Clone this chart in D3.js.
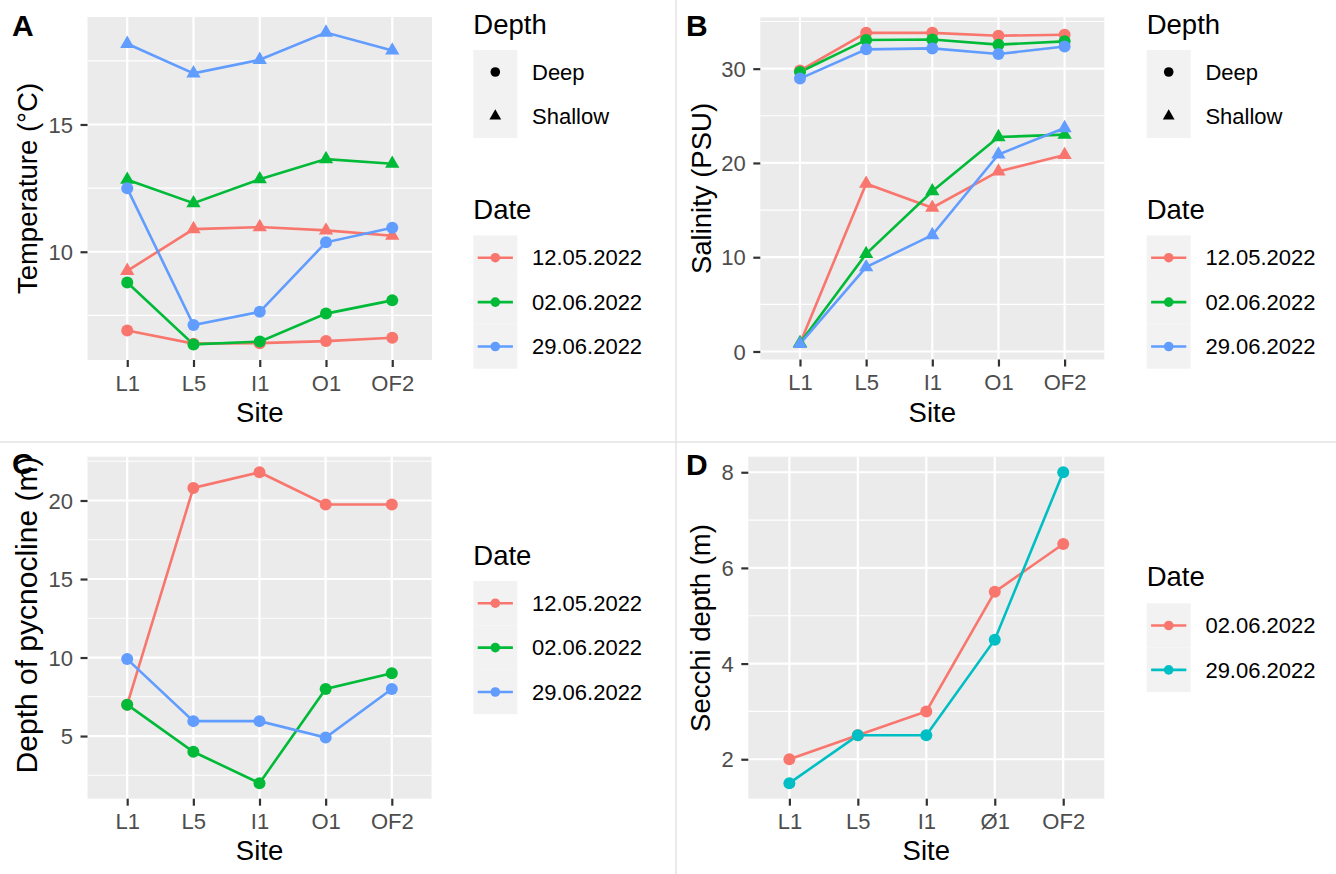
<!DOCTYPE html>
<html>
<head>
<meta charset="utf-8">
<script src="https://cdn.jsdelivr.net/npm/d3@7"></script>
<style>
  html, body { margin: 0; padding: 0; background: #ffffff; }
  svg { display: block; font-family: "Liberation Sans", Arial, Helvetica, sans-serif; }
</style>
</head>
<body>
<svg id="fig" width="1336" height="874"></svg>
<script>
// ---- categories ----
const sites = ["L1", "L5", "I1", "O1", "OF2"];
const secchiSites = ["L1", "L5", "I1", "Ø1", "OF2"];
const dates = ["12.05.2022", "02.06.2022", "29.06.2022"];
const secchiDates = ["02.06.2022", "29.06.2022"];
const depths = ["Deep", "Shallow"];

// ---- temperature (°C) ----
const tempDeep12May = [6.91, 6.39, 6.41, 6.49, 6.62];
const tempDeep02Jun = [8.79, 6.36, 6.47, 7.57, 8.09];
const tempDeep29Jun = [12.49, 7.12, 7.64, 10.37, 10.94];
const tempShallow12May = [9.25, 10.89, 10.97, 10.84, 10.63];
const tempShallow02Jun = [12.83, 11.91, 12.85, 13.64, 13.46];
const tempShallow29Jun = [18.17, 17.01, 17.54, 18.61, 17.91];

// ---- salinity (PSU) ----
const salDeep12May = [29.8, 33.8, 33.8, 33.5, 33.6];
const salDeep02Jun = [29.65, 33.05, 33.1, 32.55, 32.9];
const salDeep29Jun = [28.95, 32.05, 32.15, 31.55, 32.35];
const salShallow12May = [0.85, 17.8, 15.25, 19.1, 20.85];
const salShallow02Jun = [0.9, 10.35, 17.0, 22.75, 23.0];
const salShallow29Jun = [0.8, 8.95, 12.35, 20.9, 23.7];

// ---- depth of pycnocline (m) ----
const pyc12May = [7, 20.8, 21.8, 19.75, 19.75];
const pyc02Jun = [7, 4, 2, 8, 9];
const pyc29Jun = [9.9, 5.95, 5.95, 4.9, 8];

// ---- Secchi depth (m) ----
const secchi02Jun = [2, 2.5, 3, 5.5, 6.5];
const secchi29Jun = [1.5, 2.5, 2.5, 4.5, 8];

// ---- tick values ----
const tempMajor = [10, 15], tempMinor = [7.5, 12.5, 17.5];
const salMajor = [0, 10, 20, 30], salMinor = [5, 15, 25, 35];
const pycMajor = [5, 10, 15, 20], pycMinor = [2.5, 7.5, 12.5, 17.5, 22.5];
const secMajor = [2, 4, 6, 8], secMinor = [3, 5, 7];

const dateColors = ["#F8766D", "#00BA38", "#619CFF"];
const secchiColors = ["#F8766D", "#00BFC4"];

const svg = d3.select("#fig");

// panel separators
svg.append("line").attr("x1", 0).attr("x2", 1336).attr("y1", 442).attr("y2", 442)
  .attr("stroke", "#e3e3e3").attr("stroke-width", 1.5);
svg.append("line").attr("x1", 676).attr("x2", 676).attr("y1", 0).attr("y2", 874)
  .attr("stroke", "#e3e3e3").attr("stroke-width", 1.5);

function triPath(size) { return d3.symbol().type(d3.symbolTriangle).size(size)(); }

// Draws one ggplot-style panel.
function drawPanel(cfg) {
  const { box, cats, series, major, minor, yTitle, yTitleX, yTitleY, yTitleSize, tag, tagX, tagY, xTitleY } = cfg;
  const g = svg.append("g");
  const allVals = series.flatMap(s => s.values);
  const [lo, hi] = d3.extent(allVals);
  const pad = (hi - lo) * 0.05;
  const x = d3.scalePoint().domain(cats).range([box.x0, box.x1]).padding(0.6);
  const y = d3.scaleLinear().domain([lo - pad, hi + pad]).range([box.y1, box.y0]);

  g.append("rect").attr("x", box.x0).attr("y", box.y0)
    .attr("width", box.x1 - box.x0).attr("height", box.y1 - box.y0).attr("fill", "#EBEBEB");

  g.selectAll(".minor").data(minor).join("line")
    .attr("x1", box.x0).attr("x2", box.x1).attr("y1", d => y(d)).attr("y2", d => y(d))
    .attr("stroke", "#ffffff").attr("stroke-width", 1.1);
  g.selectAll(".majorY").data(major).join("line")
    .attr("x1", box.x0).attr("x2", box.x1).attr("y1", d => y(d)).attr("y2", d => y(d))
    .attr("stroke", "#ffffff").attr("stroke-width", 2.2);
  g.selectAll(".majorX").data(cats).join("line")
    .attr("y1", box.y0).attr("y2", box.y1).attr("x1", d => x(d)).attr("x2", d => x(d))
    .attr("stroke", "#ffffff").attr("stroke-width", 2.2);

  // axes
  const ax = g.append("g").attr("transform", `translate(0,${box.y1})`)
    .call(d3.axisBottom(x).tickSize(7).tickPadding(8));
  ax.select(".domain").remove();
  ax.selectAll(".tick line").attr("stroke", "#333333").attr("stroke-width", 2.2);
  ax.selectAll(".tick text").attr("fill", "#4D4D4D").attr("font-size", 22)
    .attr("y", 15).attr("dy", "0.71em");

  const ay = g.append("g").attr("transform", `translate(${box.x0},0)`)
    .call(d3.axisLeft(y).tickValues(major).tickSize(7).tickPadding(7.5).tickFormat(d3.format("d")));
  ay.select(".domain").remove();
  ay.selectAll(".tick line").attr("stroke", "#333333").attr("stroke-width", 2.2);
  ay.selectAll(".tick text").attr("fill", "#4D4D4D").attr("font-size", 22).attr("dy", "0.35em");

  // lines then points
  const line = d3.line().x((d, i) => x(cats[i])).y(d => y(d));
  series.forEach(s => {
    g.append("path").attr("d", line(s.values)).attr("fill", "none")
      .attr("stroke", s.color).attr("stroke-width", 2.6);
  });
  series.forEach(s => {
    s.values.forEach((v, i) => {
      if (s.shape === "triangle") {
        g.append("path").attr("d", triPath(88))
          .attr("transform", `translate(${x(cats[i])},${y(v)})`).attr("fill", s.color);
      } else {
        g.append("circle").attr("cx", x(cats[i])).attr("cy", y(v)).attr("r", 6).attr("fill", s.color);
      }
    });
  });

  // titles
  g.append("text").attr("x", (box.x0 + box.x1) / 2).attr("y", xTitleY)
    .attr("text-anchor", "middle").attr("font-size", 27.5).attr("fill", "#000").text("Site");
  g.append("text").attr("transform", `translate(${yTitleX},${yTitleY}) rotate(-90)`)
    .attr("text-anchor", "middle").attr("font-size", yTitleSize).attr("fill", "#000").text(yTitle);
  g.append("text").attr("x", tagX).attr("y", tagY).attr("font-size", 30)
    .attr("font-weight", "bold").attr("fill", "#000").text(tag);
}

function drawShapeLegend(x0, titleY, boxY) {
  const g = svg.append("g");
  g.append("text").attr("x", x0).attr("y", titleY).attr("font-size", 27.5).text("Depth");
  depths.forEach((d, i) => {
    const cy = boxY + 44 * i + 22;
    g.append("rect").attr("x", x0).attr("y", boxY + 44 * i).attr("width", 44).attr("height", 44).attr("fill", "#F2F2F2");
    if (d === "Shallow") {
      g.append("path").attr("d", triPath(60)).attr("transform", `translate(${x0 + 22},${cy})`).attr("fill", "#000");
    } else {
      g.append("circle").attr("cx", x0 + 22).attr("cy", cy).attr("r", 4.8).attr("fill", "#000");
    }
    g.append("text").attr("x", x0 + 58.7).attr("y", cy).attr("dy", "0.35em").attr("font-size", 22).text(d);
  });
}

function drawDateLegend(x0, titleY, boxY, labels, colors) {
  const g = svg.append("g");
  g.append("text").attr("x", x0).attr("y", titleY).attr("font-size", 27.5).text("Date");
  labels.forEach((d, i) => {
    const cy = boxY + 44.4 * i + 22.2;
    g.append("rect").attr("x", x0).attr("y", boxY + 44.4 * i).attr("width", 44).attr("height", 44.4).attr("fill", "#F2F2F2");
    g.append("line").attr("x1", x0 + 4.4).attr("x2", x0 + 39.6).attr("y1", cy).attr("y2", cy)
      .attr("stroke", colors[i]).attr("stroke-width", 2.6);
    g.append("circle").attr("cx", x0 + 22).attr("cy", cy).attr("r", 4.8).attr("fill", colors[i]);
    g.append("text").attr("x", x0 + 58.7).attr("y", cy).attr("dy", "0.35em").attr("font-size", 22).text(d);
  });
}

// Panel A: temperature
drawPanel({
  box: { x0: 87.5, x1: 432, y0: 17, y1: 360 }, cats: sites,
  series: [
    { values: tempDeep12May, color: dateColors[0], shape: "circle" },
    { values: tempShallow12May, color: dateColors[0], shape: "triangle" },
    { values: tempDeep02Jun, color: dateColors[1], shape: "circle" },
    { values: tempShallow02Jun, color: dateColors[1], shape: "triangle" },
    { values: tempDeep29Jun, color: dateColors[2], shape: "circle" },
    { values: tempShallow29Jun, color: dateColors[2], shape: "triangle" }
  ],
  major: tempMajor, minor: tempMinor,
  yTitle: "Temperature (°C)", yTitleX: 36.5, yTitleY: 188.5, yTitleSize: 27.5,
  tag: "A", tagX: 12, tagY: 35.5, xTitleY: 421.5
});
drawShapeLegend(473.3, 33.5, 50);
drawDateLegend(473.3, 218.5, 235.5, dates, dateColors);

// Panel B: salinity
drawPanel({
  box: { x0: 760.3, x1: 1104.3, y0: 17.3, y1: 359.5 }, cats: sites,
  series: [
    { values: salDeep12May, color: dateColors[0], shape: "circle" },
    { values: salShallow12May, color: dateColors[0], shape: "triangle" },
    { values: salDeep02Jun, color: dateColors[1], shape: "circle" },
    { values: salShallow02Jun, color: dateColors[1], shape: "triangle" },
    { values: salDeep29Jun, color: dateColors[2], shape: "circle" },
    { values: salShallow29Jun, color: dateColors[2], shape: "triangle" }
  ],
  major: salMajor, minor: salMinor,
  yTitle: "Salinity (PSU)", yTitleX: 710.5, yTitleY: 188.5, yTitleSize: 27.5,
  tag: "B", tagX: 686, tagY: 35.5, xTitleY: 421.5
});
drawShapeLegend(1146.7, 33.5, 50);
drawDateLegend(1146.7, 218.5, 235.5, dates, dateColors);

// Panel C: depth of pycnocline
drawPanel({
  box: { x0: 87.5, x1: 431.5, y0: 456.7, y1: 798.7 }, cats: sites,
  series: [
    { values: pyc12May, color: dateColors[0], shape: "circle" },
    { values: pyc02Jun, color: dateColors[1], shape: "circle" },
    { values: pyc29Jun, color: dateColors[2], shape: "circle" }
  ],
  major: pycMajor, minor: pycMinor,
  yTitle: "Depth of pycnocline (m)", yTitleX: 36.5, yTitleY: 615, yTitleSize: 30,
  tag: "C", tagX: 12, tagY: 474, xTitleY: 860
});
drawDateLegend(473.3, 564.5, 581, dates, dateColors);

// Panel D: Secchi depth
drawPanel({
  box: { x0: 748.3, x1: 1104.3, y0: 456.7, y1: 798.7 }, cats: secchiSites,
  series: [
    { values: secchi02Jun, color: secchiColors[0], shape: "circle" },
    { values: secchi29Jun, color: secchiColors[1], shape: "circle" }
  ],
  major: secMajor, minor: secMinor,
  yTitle: "Secchi depth (m)", yTitleX: 710, yTitleY: 628, yTitleSize: 27.5,
  tag: "D", tagX: 686, tagY: 474.5, xTitleY: 860
});
drawDateLegend(1146.7, 586, 603.3, secchiDates, secchiColors);
</script>
</body>
</html>
